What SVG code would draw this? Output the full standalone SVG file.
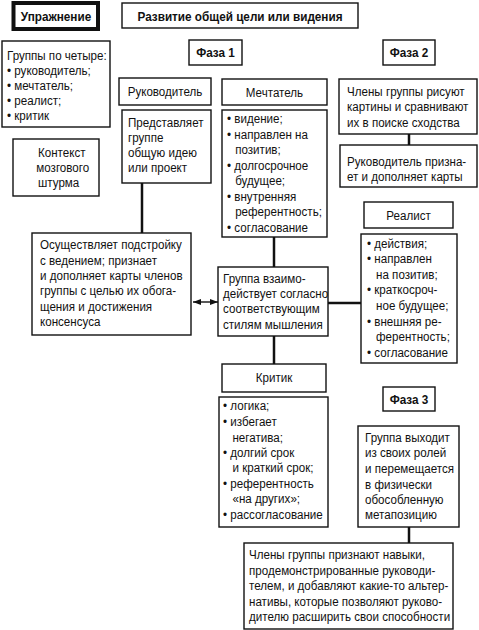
<svg xmlns="http://www.w3.org/2000/svg" width="479" height="630" viewBox="0 0 479 630">
<style>
text{font-family:"Liberation Sans",Arial,sans-serif;font-size:13.5px;fill:#111}
.b{font-weight:bold}
.c{text-anchor:middle}
rect{fill:#fff;stroke:#111;stroke-width:1.4}
.thick{stroke-width:4}
.conn line{stroke:#111;stroke-width:2.5}
.conn line.arr{stroke-width:1.4}
</style>
<defs>
<marker id="ah" viewBox="0 0 8 6" refX="8" refY="3" markerWidth="8" markerHeight="6" markerUnits="userSpaceOnUse" orient="auto-start-reverse">
<path d="M0,0 L8,3 L0,6 Z" fill="#111"/>
</marker>
</defs>
<rect width="479" height="630" style="fill:#fff;stroke:none"/>

<g class="conn">
<line x1="142" y1="183" x2="142" y2="233"/>
<line x1="274" y1="237" x2="274" y2="267"/>
<line x1="328" y1="303" x2="361" y2="303"/>
<line x1="274" y1="336" x2="274" y2="364"/>
<line x1="409" y1="134" x2="409" y2="145"/>
<line x1="409" y1="527" x2="409" y2="543"/>
<line class="arr" x1="193" y1="302" x2="218" y2="302" marker-start="url(#ah)" marker-end="url(#ah)"/>
</g>

<g id="exercise">
<rect class="thick" x="13.5" y="3" width="84.5" height="26"/>
<g transform="translate(56,0) scale(0.87,1)"><text class="b c" x="0" y="21">Упражнение</text></g>
</g>

<g id="title">
<rect x="122" y="3" width="236" height="25"/>
<g transform="translate(240,0) scale(0.87,1)"><text class="b c" x="0" y="21">Развитие общей цели или видения</text></g>
</g>

<g id="groups">
<rect x="2" y="41" width="108" height="86"/>
<g transform="translate(7,0) scale(0.86,1)">
<text x="0" y="60">Группы по четыре:</text>
<text x="0" y="75">• руководитель;</text>
<text x="0" y="90">• мечтатель;</text>
<text x="0" y="105">• реалист;</text>
<text x="0" y="120">• критик</text>
</g>
</g>

<g id="phase1">
<rect x="189" y="40" width="53" height="25"/>
<g transform="translate(215.5,0) scale(0.87,1)"><text class="b c" x="0" y="57">Фаза 1</text></g>
</g>

<g id="phase2">
<rect x="383" y="40" width="52" height="25"/>
<g transform="translate(409,0) scale(0.87,1)"><text class="b c" x="0" y="57">Фаза 2</text></g>
</g>

<g id="context">
<rect x="13" y="139" width="86" height="57"/>
<g transform="translate(38,0) scale(0.86,1)">
<text x="0" y="157">Контекст</text>
<text x="-2" y="172">мозгового</text>
<text x="0" y="187">штурма</text>
</g>
</g>

<g id="leader-head">
<rect x="119" y="78" width="92" height="27"/>
<g transform="translate(165,0) scale(0.86,1)"><text class="c" x="0" y="96">Руководитель</text></g>
</g>

<g id="leader-body">
<rect x="122" y="110" width="89" height="73"/>
<g transform="translate(128,0) scale(0.86,1)">
<text x="0" y="127">Представляет</text>
<text x="0" y="142">группе</text>
<text x="0" y="157">общую идею</text>
<text x="0" y="172">или проект</text>
</g>
</g>

<g id="dreamer-head">
<rect x="222" y="79" width="105" height="26"/>
<g transform="translate(274.5,0) scale(0.86,1)"><text class="c" x="0" y="97">Мечтатель</text></g>
</g>

<g id="dreamer-body">
<rect x="222" y="110" width="105" height="127"/>
<g transform="translate(227,0) scale(0.86,1)">
<text x="0" y="123">• видение;</text>
<text x="0" y="139">• направлен на</text>
<text x="9.5" y="154">позитив;</text>
<text x="0" y="170">• долгосрочное</text>
<text x="9.5" y="185">будущее;</text>
<text x="0" y="201">• внутренняя</text>
<text x="9.5" y="216">референтность;</text>
<text x="0" y="232">• согласование</text>
</g>
</g>

<g id="phase2-draw">
<rect x="339" y="79" width="138" height="55"/>
<g transform="translate(347,0) scale(0.86,1)">
<text x="0" y="96">Члены группы рисуют</text>
<text x="0" y="111">картины и сравнивают</text>
<text x="0" y="127">их в поиске сходства</text>
</g>
</g>

<g id="phase2-leader">
<rect x="340" y="145" width="137" height="42"/>
<g transform="translate(347,0) scale(0.86,1)">
<text x="0" y="166">Руководитель призна-</text>
<text x="0" y="181">ет и дополняет карты</text>
</g>
</g>

<g id="realist-head">
<rect x="364" y="202" width="89" height="26"/>
<g transform="translate(408.5,0) scale(0.86,1)"><text class="c" x="0" y="220">Реалист</text></g>
</g>

<g id="realist-body">
<rect x="361" y="234" width="96" height="129"/>
<g transform="translate(367,0) scale(0.86,1)">
<text x="0" y="248">• действия;</text>
<text x="0" y="263">• направлен</text>
<text x="10.5" y="279">на позитив;</text>
<text x="0" y="294">• краткосроч-</text>
<text x="10.5" y="310">ное будущее;</text>
<text x="0" y="326">• внешняя ре-</text>
<text x="10.5" y="341">ферентность;</text>
<text x="0" y="357">• согласование</text>
</g>
</g>

<g id="adjust">
<rect x="32" y="233" width="159" height="102"/>
<g transform="translate(40,0) scale(0.86,1)">
<text x="0" y="249">Осуществляет подстройку</text>
<text x="0" y="265">с ведением; признает</text>
<text x="0" y="280">и дополняет карты членов</text>
<text x="0" y="295">группы с целью их обога-</text>
<text x="0" y="311">щения и достижения</text>
<text x="0" y="326">консенсуса</text>
</g>
</g>

<g id="interact">
<rect x="218" y="267" width="110" height="69"/>
<g transform="translate(223,0) scale(0.86,1)">
<text x="0" y="283">Группа взаимо-</text>
<text x="0" y="298">действует согласно</text>
<text x="0" y="313">соответствующим</text>
<text x="0" y="329">стилям мышления</text>
</g>
</g>

<g id="critic-head">
<rect x="222" y="364" width="104" height="28"/>
<g transform="translate(274,0) scale(0.86,1)"><text class="c" x="0" y="382">Критик</text></g>
</g>

<g id="critic-body">
<rect x="219" y="397" width="109" height="130"/>
<g transform="translate(223,0) scale(0.86,1)">
<text x="0" y="410">• логика;</text>
<text x="0" y="426">• избегает</text>
<text x="11" y="442">негатива;</text>
<text x="0" y="457">• долгий срок</text>
<text x="11" y="472">и краткий срок;</text>
<text x="0" y="488">• референтность</text>
<text x="11" y="503">«на других»;</text>
<text x="0" y="519">• рассогласование</text>
</g>
</g>

<g id="phase3">
<rect x="383" y="387" width="52" height="24"/>
<g transform="translate(409,0) scale(0.87,1)"><text class="b c" x="0" y="404">Фаза 3</text></g>
</g>

<g id="phase3-exit">
<rect x="358" y="426" width="101" height="101"/>
<g transform="translate(365,0) scale(0.86,1)">
<text x="0" y="442">Группа выходит</text>
<text x="0" y="457">из своих ролей</text>
<text x="0" y="473">и перемещается</text>
<text x="0" y="489">в физически</text>
<text x="0" y="504">обособленную</text>
<text x="0" y="519">метапозицию</text>
</g>
</g>

<g id="final">
<rect x="244" y="543" width="209" height="86"/>
<g transform="translate(249,0) scale(0.86,1)">
<text x="0" y="559">Члены группы признают навыки,</text>
<text x="0" y="575">продемонстрированные руководи-</text>
<text x="0" y="590">телем, и добавляют какие-то альтер-</text>
<text x="0" y="606">нативы, которые позволяют руково-</text>
<text x="0" y="621">дителю расширить свои способности</text>
</g>
</g>
</svg>
